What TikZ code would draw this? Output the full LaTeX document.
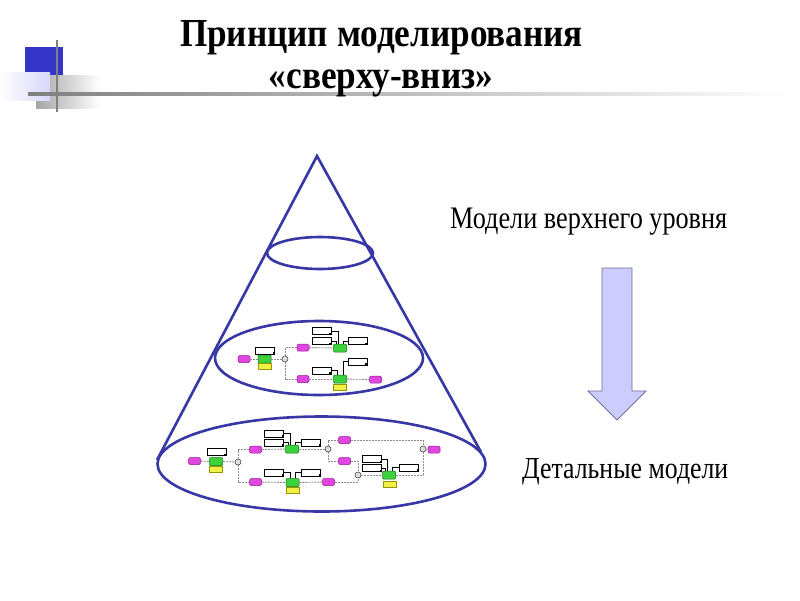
\documentclass[tikz,border=0pt]{standalone}
\usepackage{fontspec}
\setmainfont{Liberation Serif}
\usepackage{graphicx}
\definecolor{conecol}{RGB}{55,55,165}
\definecolor{magf}{RGB}{225,70,225}
\definecolor{magd}{RGB}{150,20,150}
\definecolor{grnf}{RGB}{60,210,60}
\definecolor{grnd}{RGB}{20,110,20}
\definecolor{yelf}{RGB}{240,240,70}
\definecolor{yeld}{RGB}{150,150,0}
\definecolor{arrf}{RGB}{204,204,255}
\definecolor{arrd}{RGB}{110,110,150}
\definecolor{decblue}{RGB}{52,52,200}
\definecolor{declav}{RGB}{215,215,248}
\newlength\titw
\newlength\tith
\newcommand\titlefont{\bfseries\fontsize{40}{40}\selectfont}
\AtBeginDocument{%
  \settowidth\titw{\normalfont\titlefont Принцип моделирования}%
  \settoheight\tith{\normalfont\titlefont П}%
  \pgfmathsetmacro\tsx{403/\titw}%
  \pgfmathsetmacro\tsy{26/\tith}%
}
\begin{document}
\begin{tikzpicture}[x=1pt,y=-1pt,
  cone/.style={draw=conecol,line width=2.6pt},
  mag/.style={draw=magd,fill=magf,rounded corners=1.5pt,minimum width=12pt,minimum height=7pt,inner sep=0pt,line width=0.5pt},
  grn/.style={draw=grnd,fill=grnf,rounded corners=1pt,minimum width=13pt,minimum height=8pt,inner sep=0pt,line width=0.5pt},
  yel/.style={draw=yeld,fill=yelf,minimum width=13pt,minimum height=6pt,inner sep=0pt,line width=0.5pt},
  wht/.style={draw=black,fill=white,minimum width=19pt,minimum height=7pt,inner sep=0pt,line width=0.55pt,
    path picture={\fill[black] (path picture bounding box.south east) rectangle ++(-2pt,2pt);}},
  jn/.style={circle,draw=black!80,fill=gray!25,minimum size=6pt,inner sep=0pt,line width=0.5pt},
  dsh/.style={draw=gray!90,dashed,dash pattern=on 2pt off 1pt,line width=0.9pt},
  sol/.style={draw=black,line width=0.6pt}]
\useasboundingbox (0,0) rectangle (800,600);
\fill[white] (0,0) rectangle (800,600);
% decoration
\shade[left color=gray!70,right color=white] (36,75) rectangle (100,108);
\fill[decblue] (25,47) rectangle (63,75);
\shade[left color=white,right color=declav] (0,72) rectangle (50,100);
\shade[left color=gray,right color=white] (28,92.7) rectangle (790,95.3);
\fill[gray] (55.8,40) rectangle (58.2,112);
% title
\node[anchor=base,inner sep=0pt] (t1) at (381.5,46) {\scalebox{\tsx}[\tsy]{\titlefont Принцип моделирования}};
\node[anchor=base,inner sep=0pt] (t2) at (381,88) {\scalebox{\tsx}[\tsy]{\titlefont «сверху-вниз»}};
% side texts
\node[anchor=base west,inner sep=0pt] (up) at (450,228) {\resizebox{277pt}{20.5pt}{Модели верхнего уровня}};
\node[anchor=base west,inner sep=0pt] (dn) at (522,478) {\resizebox{206pt}{20pt}{Детальные модели}};
% arrow
\draw[draw=arrd,fill=arrf,line width=0.8pt] (602,268) -- (632,268) -- (632,391) -- (646,391) -- (617,420) -- (588,391) -- (602,391) -- cycle;
% cone
\coordinate (apex) at (317,156);
\coordinate (bl) at (157,460);
\coordinate (br) at (481,452);
\draw[cone] (bl) -- (apex) -- (br);
\draw[cone] (320,253) ellipse [x radius=53, y radius=16];
\draw[cone] (319,358) ellipse [x radius=104, y radius=37];
\draw[cone] (321.5,464) ellipse [x radius=164, y radius=47.5];
% ---- middle diagram ----
\node[mag] (a1) at (244,359) {};
\node[grn] (ag1) at (264.5,359) {};
\node[wht] (aw1) at (265,350.5) {};
\node[yel] (ay1) at (264.5,366) {};
\node[jn] (aj1) at (285,359) {};
\node[mag] (a2) at (303,347.5) {};
\node[mag] (a3) at (303,379) {};
\node[grn] (ag2) at (340,348) {};
\node[wht] (aw2a) at (321.5,331) {};
\node[wht] (aw2b) at (321.5,341) {};
\node[wht] (aw2c) at (357.5,341) {};
\node[grn] (ag3) at (340,379) {};
\node[yel] (ay3) at (340,387) {};
\node[wht] (aw3a) at (321.5,370.5) {};
\node[wht] (aw3b) at (357.5,361.5) {};
\node[mag] (a4) at (375.5,379.5) {};
\draw[dsh] (a1) -- (ag1);
\draw[dsh] (ag1) -- (aj1);
\draw[dsh] (aj1) |- (a2);
\draw[dsh] (aj1) |- (a3);
\draw[dsh] (a2) -- (ag2);
\draw[dsh] (a3) -- (ag3);
\draw[dsh] (ag3) -- (a4);
\draw[sol] (aw2a.east) -| ([xshift=-2pt]ag2.north);
\draw[sol] (aw2b.east) -| ([xshift=-4pt]ag2.north);
\draw[sol] ([xshift=3pt]ag2.north) |- (aw2c.west);
\draw[sol] (aw3a.east) -| ([xshift=-3pt]ag3.north);
\draw[sol] ([xshift=3pt]ag3.north) |- (aw3b.west);
% ---- bottom diagram ----
\node[mag] (b1) at (194.5,461) {};
\node[grn] (bg1) at (216,461.5) {};
\node[wht] (bw1) at (216.5,452) {};
\node[yel] (by1) at (216,469) {};
\node[jn] (bj1) at (238,462) {};
\node[mag] (b2) at (255.5,449.5) {};
\node[mag] (b3) at (255.5,482) {};
\node[grn] (bg2) at (292,449) {};
\node[wht] (bw2a) at (274,433.5) {};
\node[wht] (bw2b) at (274,442.5) {};
\node[wht] (bw2c) at (311,442.5) {};
\node[jn] (bj2) at (328,449) {};
\node[mag] (b4) at (344.5,440) {};
\node[mag] (b5) at (344.5,461) {};
\node[grn] (bg3) at (292.5,482.5) {};
\node[yel] (by3) at (292.5,490) {};
\node[wht] (bw3a) at (274,472.5) {};
\node[wht] (bw3b) at (311,472.5) {};
\node[mag] (b6) at (328.5,482) {};
\node[jn] (bj3) at (358,475) {};
\node[grn] (bg4) at (389,475) {};
\node[yel] (by4) at (390,484.5) {};
\node[wht] (bw4a) at (372,459) {};
\node[wht] (bw4b) at (372,468) {};
\node[wht] (bw4c) at (409,467.5) {};
\node[jn] (bj4) at (423,449) {};
\node[mag] (b7) at (434,449.5) {};
\draw[dsh] (b1) -- (bg1);
\draw[dsh] (bg1) -- (bj1);
\draw[dsh] (bj1) |- (b2);
\draw[dsh] (bj1) |- (b3);
\draw[dsh] (b2) -- (bg2);
\draw[dsh] (bg2) -- (bj2);
\draw[dsh] (bj2) |- (b4);
\draw[dsh] (bj2) |- (b5);
\draw[dsh] (b4) -| (bj4);
\draw[dsh] (b5) -| (bj3);
\draw[dsh] (b3) -- (bg3);
\draw[dsh] (bg3) -- (b6);
\draw[dsh] (b6) -| (bj3);
\draw[dsh] (bj3) -- (bg4);
\draw[dsh] (bg4) -| (bj4);
\draw[dsh] (bj4) -- (b7);
\draw[sol] (bw2a.east) -| ([xshift=-2pt]bg2.north);
\draw[sol] (bw2b.east) -| ([xshift=-4pt]bg2.north);
\draw[sol] ([xshift=3pt]bg2.north) |- (bw2c.west);
\draw[sol] (bw3a.east) -| ([xshift=-2pt]bg3.north);
\draw[sol] ([xshift=3pt]bg3.north) |- (bw3b.west);
\draw[sol] (bw4a.east) -| ([xshift=-2pt]bg4.north);
\draw[sol] (bw4b.east) -| ([xshift=-4pt]bg4.north);
\draw[sol] ([xshift=3pt]bg4.north) |- (bw4c.west);
\end{tikzpicture}
\end{document}
